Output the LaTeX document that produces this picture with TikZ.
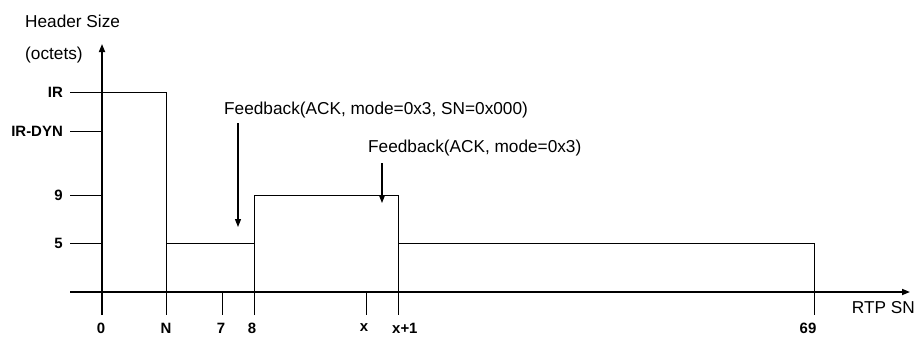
\documentclass[tikz,border=0pt]{standalone}
\usepackage{fontspec}
\setmainfont{Liberation Sans}
\usetikzlibrary{arrows.meta}
\begin{document}
\begin{tikzpicture}[x=1bp,y=-1bp,
  axis/.style={line width=1.6bp,-{Triangle[length=8bp,width=6bp]}},
  stepline/.style={line width=0.8bp},
  tickline/.style={line width=0.8bp},
  fbarrow/.style={line width=1.2bp,-{Triangle[length=8bp,width=6bp]}},
  lab/.style={font=\fontsize{17.3}{20}\selectfont,inner sep=0pt},
  blab/.style={font=\fontsize{15}{17}\selectfont\bfseries,inner sep=0pt}]
\useasboundingbox (0,0) rectangle (916,336);
% coordinates
\coordinate (o) at (102,292);
\coordinate (ybot) at (102,315);
\coordinate (ytop) at (102,44);
\coordinate (xl) at (70,292);
\coordinate (xr) at (910,292);
% axes
\draw[axis] (ybot) -- (ytop);
\draw[axis] (xl) -- (xr);
% y ticks
\coordinate (tIR) at (70,92);
\coordinate (tDYN) at (70,131);
\coordinate (t9) at (70,195);
\coordinate (t5) at (70,243);
\draw[tickline] (tDYN) -- (102,131);
\draw[tickline] (t9) -- (102,195);
\draw[tickline] (t5) -- (102,243);
% step curve
\coordinate (nb) at (166,315);
\coordinate (eb) at (254,315);
\coordinate (xpb) at (398,315);
\coordinate (sb) at (814,315);
\draw[stepline] (tIR) -- (166,92) -- (nb);
\draw[stepline] (166,243) -- (254,243);
\draw[stepline] (eb) -- (254,195) -- (398,195) -- (xpb);
\draw[stepline] (398,243) -- (814,243) -- (sb);
% x ticks
\coordinate (s7) at (222,315);
\coordinate (sx) at (366,315);
\draw[tickline] (222,292) -- (s7);
\draw[tickline] (366,292) -- (sx);
% labels y
\node[lab,anchor=west] (hs) at (25,21) {Header Size};
\node[lab,anchor=west] (oc) at (25,55) {(octets)};
\node[blab,anchor=east] (lIR) at (63,92) {IR};
\node[blab,anchor=east] (lDYN) at (63,131) {IR-DYN};
\node[blab,anchor=east] (l9) at (63,195) {9};
\node[blab,anchor=east] (l5) at (63,243) {5};
% labels x
\node[blab] (l0) at (101,328) {0};
\node[blab] (lN) at (166,328) {N};
\node[blab] (l7) at (221,328) {7};
\node[blab] (l8) at (252,328) {8};
\node[blab] (lx) at (364,328) {x};
\node[blab,anchor=west] (lx1) at (392,328) {x+1};
\node[blab] (l69) at (808,328) {69};
\node[lab,anchor=east] (rtp) at (915,308) {RTP SN};
% feedback
\node[lab,anchor=west] (fb1) at (224,110) {Feedback(ACK, mode=0x3, SN=0x000)};
\node[lab,anchor=west] (fb2) at (368,148) {Feedback(ACK, mode=0x3)};
\coordinate (a1s) at (238,123);
\coordinate (a1e) at (238,227);
\coordinate (a2s) at (382,163);
\coordinate (a2e) at (382,203);
\draw[fbarrow] (a1s) -- (a1e);
\draw[fbarrow] (a2s) -- (a2e);
\end{tikzpicture}
\end{document}
